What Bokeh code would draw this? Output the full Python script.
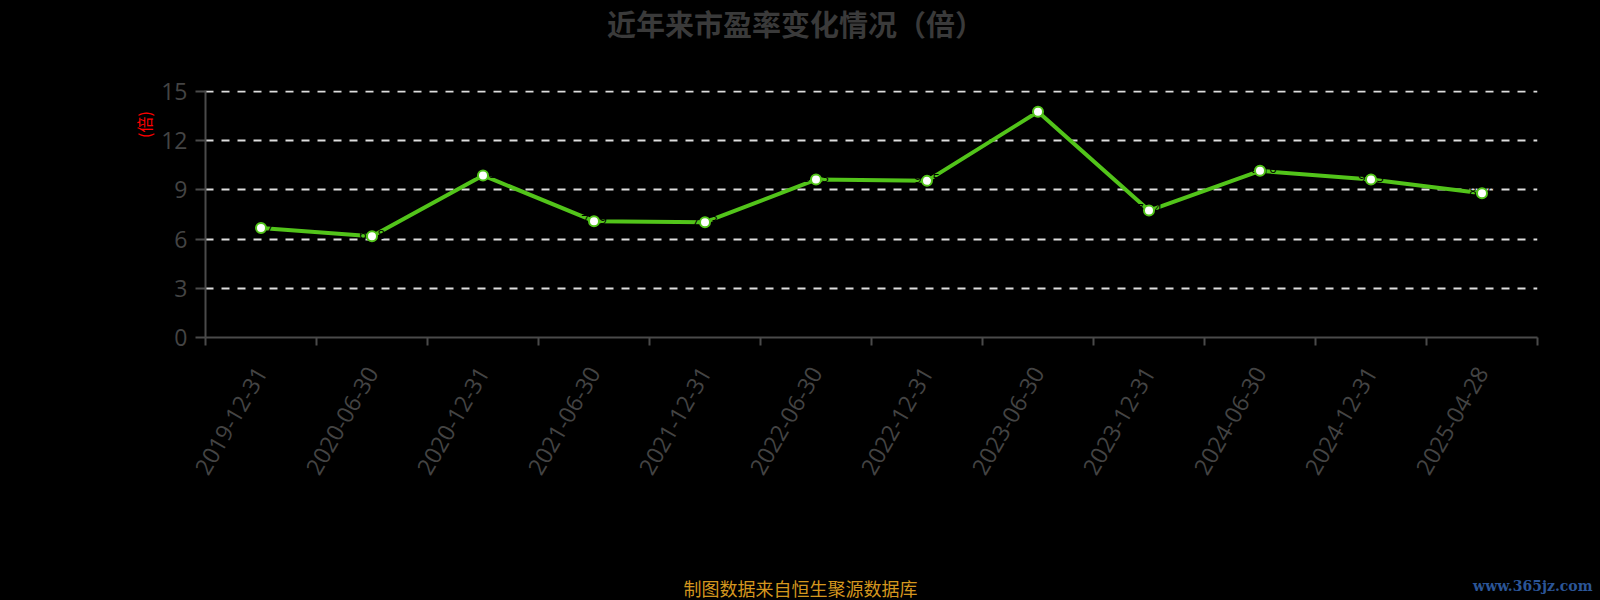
import math
from bokeh.plotting import figure
from bokeh.layouts import column, row
from bokeh.models import (FactorRange, Range1d, LinearAxis, CategoricalAxis, FixedTicker,
                          ColumnDataSource, CustomJSTickFormatter)
from bokeh.core.properties import value
from bokeh.embed import file_html
from bokeh.resources import INLINE

dates = ["2019-12-31", "2020-06-30", "2020-12-31", "2021-06-30", "2021-12-31", "2022-06-30",
         "2022-12-31", "2023-06-30", "2023-12-31", "2024-06-30", "2024-12-31", "2025-04-28"]
pe = [6.67, 6.18, 9.88, 7.09, 7.03, 9.63, 9.55, 13.76, 7.74, 10.16, 9.63, 8.80]
y_ticks = [0, 3, 6, 9, 12, 15]

title_text = "近年来市盈率变化情况（倍）"
unit_text = "(倍)"
footer_text = "制图数据来自恒生聚源数据库"
mark_text = "www.365jz.com"

W, H = 1600, 600
TOP_H, BOT_H, LEFT_W = 70, 45, 155
MAIN_H = H - TOP_H - BOT_H
FRAME_TOP, FRAME_BOTTOM = 90, 337


def blank(width, height, yr=None):
    f = figure(width=width, height=height, x_range=Range1d(0, width),
               y_range=yr if yr is not None else Range1d(0, height),
               output_backend="svg", toolbar_location=None, x_axis_location=None,
               y_axis_location=None, min_border=0, background_fill_color="black",
               border_fill_color="black")
    f.outline_line_color = None
    f.grid.visible = False
    return f


# ---- title strip
top = blank(W, TOP_H)
top.text(x=[795], y=[TOP_H - 22], text=[title_text], text_align="center", text_baseline="middle",
         text_font=value("Noto Sans CJK SC"), text_font_style="bold", text_font_size="29px",
         text_color="#3a3a3a")

# ---- unit label strip (its frame is aligned with the main frame; y in page pixels)
left = blank(LEFT_W, MAIN_H, yr=Range1d(FRAME_BOTTOM, FRAME_TOP))
left.text(x=[143], y=[124], text=[unit_text], angle=math.pi / 2,
          text_align="center", text_baseline="middle", text_font=value("Noto Sans CJK SC"),
          text_font_size="16px", text_color="#ff0000")

# ---- main chart
src = ColumnDataSource(dict(x=dates, y=pe, lbl=["%.2f" % v for v in pe]))

p = figure(width=W - LEFT_W, height=MAIN_H, x_range=FactorRange(*dates, range_padding=0),
           y_range=Range1d(0, 15.06), output_backend="svg", toolbar_location=None,
           x_axis_location=None, y_axis_location="left",
           min_border_left=205 - LEFT_W, min_border_right=W - 1537,
           min_border_top=FRAME_TOP - TOP_H, min_border_bottom=(TOP_H + MAIN_H) - FRAME_BOTTOM,
           background_fill_color="black", border_fill_color="black")
p.outline_line_color = None

p.xgrid.grid_line_color = None
p.ygrid.ticker = FixedTicker(ticks=y_ticks[1:])
p.ygrid.grid_line_color = "#dddddd"
p.ygrid.grid_line_dash = "8 8"
p.ygrid.grid_line_width = 2

ya = p.yaxis[0]
ya.ticker = FixedTicker(ticks=y_ticks)
ya.axis_line_color = "#4a4a4a"
ya.axis_line_width = 2
ya.major_tick_line_color = "#4a4a4a"
ya.major_tick_line_width = 2
ya.major_tick_out = 10
ya.major_tick_in = 0
ya.minor_tick_line_color = None
ya.major_label_text_color = "#444444"
ya.major_label_text_font = "Open Sans"
ya.major_label_text_font_size = "23px"
ya.major_label_standoff = 8

# ticks at category boundaries (synthetic coordinates 0..N)
tick_axis = LinearAxis(ticker=FixedTicker(ticks=list(range(len(dates) + 1))),
                       formatter=CustomJSTickFormatter(code="return ''"),
                       major_label_standoff=0,
                       axis_line_color="#4a4a4a", axis_line_width=2,
                       major_tick_line_color="#4a4a4a", major_tick_line_width=2,
                       major_tick_out=8, major_tick_in=0, minor_tick_line_color=None)
p.add_layout(tick_axis, "below")

cat_axis = CategoricalAxis(axis_line_color=None, major_tick_line_color=None,
                           major_label_orientation=math.pi / 3,
                           major_label_text_color="#444444",
                           major_label_text_font="Open Sans",
                           major_label_text_font_size="23px",
                           major_label_standoff=17)
p.add_layout(cat_axis, "below")

p.line("x", "y", source=src, line_color="#52c41a", line_width=4)
p.text("x", "y", text="lbl", source=src, text_color="black", text_align="center",
       text_baseline="middle", text_font_size="13px", text_font=value("Open Sans"), y_offset=-2)
p.scatter("x", "y", source=src, size=10, fill_color="white", line_color="#52c41a", line_width=2)

# ---- footer strip
bot = blank(W, BOT_H)
bot.text(x=[800], y=[H - 587], text=[footer_text], text_align="center", text_baseline="middle",
         text_font=value("Noto Sans CJK SC"), text_font_size="18px", text_color="#d4961e")
bot.text(x=[1592], y=[H - 585], text=[mark_text], text_align="right", text_baseline="middle",
         text_font=value("DejaVu Serif"), text_font_style="bold", text_font_size="14px",
         text_color="#2b5597")

layout = column(top, row(left, p, spacing=0, styles={"background-color": "black"}), bot,
                spacing=0, styles={"background-color": "black"})
open("out.html", "w").write(file_html(layout, INLINE))
